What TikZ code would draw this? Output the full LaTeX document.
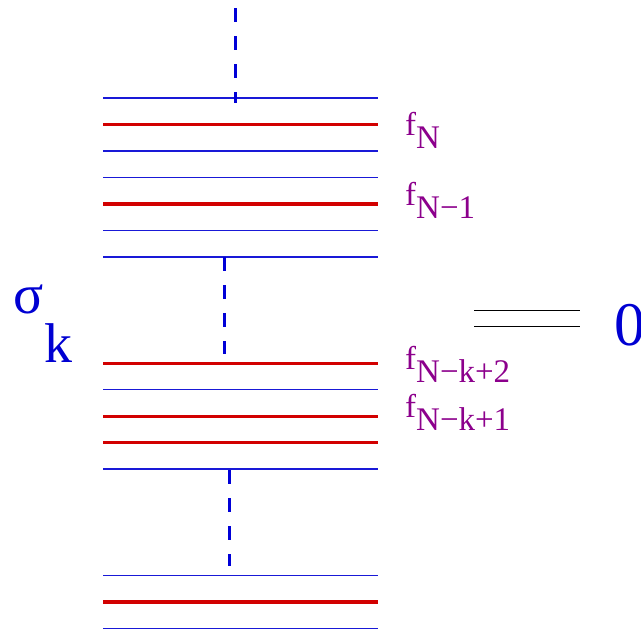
\documentclass[tikz,border=0pt]{standalone}
\usepackage{fontspec}
\setmainfont{Liberation Serif}
\definecolor{lvlblue}{RGB}{25,25,215}
\definecolor{lvlred}{RGB}{210,0,0}
\definecolor{dashblue}{RGB}{0,0,215}
\definecolor{lblpurple}{RGB}{140,0,140}
\definecolor{sigblue}{RGB}{0,0,210}
\tikzset{
  thinlvl/.style={draw=lvlblue, line width=1.1pt},
  redlvl/.style={draw=lvlred, line width=3.2pt},
  gapdash/.style={draw=dashblue, line width=3pt, dash pattern=on 14pt off 14pt},
  flabel/.style={anchor=base west, inner sep=0pt, text=lblpurple, font=\fontsize{33}{38}\selectfont},
  biglabel/.style={anchor=base west, inner sep=0pt, text=sigblue, font=\fontsize{56}{64}\selectfont},
  eqline/.style={draw=black, line width=0.9pt}
}
\newcommand{\fsub}[1]{f\raisebox{-13pt}{#1}}
\begin{document}
\begin{tikzpicture}[x=1pt,y=-1pt]
\useasboundingbox (0,0) rectangle (641,630);
% thin blue levels
\foreach \yy/\nm in {98/t0,151/t2,177.5/t3,230.5/t5,257/t6,389.5/t11,469/t14,575.5/t18,628.5/t20}{
  \coordinate (\nm L) at (103,\yy);
  \coordinate (\nm R) at (378,\yy);
  \draw[thinlvl] (\nm L) -- (\nm R);
}
% red levels
\foreach \yy/\nm in {124.5/r1,204/r4,363.3/r10,416.3/r12,442.7/r13,602/r19}{
  \coordinate (\nm L) at (103,\yy);
  \coordinate (\nm R) at (378,\yy);
  \draw[redlvl] (\nm L) -- (\nm R);
}
% dashed gaps
\coordinate (d1a) at (235,8);   \coordinate (d1b) at (235,103);
\coordinate (d2a) at (224.5,257); \coordinate (d2b) at (224.5,354);
\coordinate (d3a) at (229.7,470); \coordinate (d3b) at (229.7,566);
\draw[gapdash] (d1a) -- (d1b);
\draw[gapdash] (d2a) -- (d2b);
\draw[gapdash] (d3a) -- (d3b);
% labels
\node[flabel] (lfN)   at (405,135) {\fsub{N}};
\node[flabel] (lfN1)  at (405,205) {\fsub{N−1}};
\node[flabel] (lfNk2) at (405,369) {\fsub{N−k+2}};
\node[flabel] (lfNk1) at (405,417) {\fsub{N−k+1}};
% sigma_k
\node[biglabel] (sig) at (13,313) {σ};
\node[biglabel] (kk) at (44,362) {k};
% equals and zero
\coordinate (e1L) at (474,310.5); \coordinate (e1R) at (580,310.5);
\coordinate (e2L) at (474,326);   \coordinate (e2R) at (580,326);
\draw[eqline] (e1L) -- (e1R);
\draw[eqline] (e2L) -- (e2R);
\node[biglabel, font=\fontsize{62}{70}\selectfont] (zero) at (614,345) {0};
\end{tikzpicture}
\end{document}
